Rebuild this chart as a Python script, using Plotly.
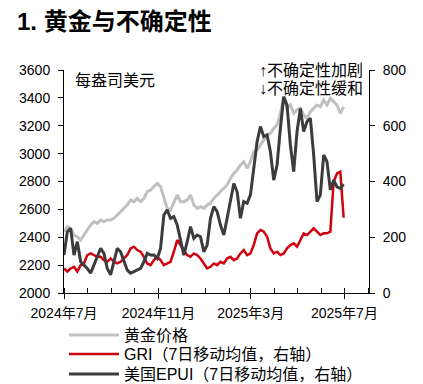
import pandas as pd
import plotly.graph_objects as go

# ---- data ----
dates = pd.date_range("2024-07-01", "2025-06-30", periods=85)

gold = [2440, 2476, 2464, 2416, 2404, 2380, 2416, 2452, 2488, 2512,
        2500, 2524, 2512, 2524, 2524, 2536, 2559, 2583, 2607, 2631,
        2667, 2655, 2679, 2655, 2679, 2727, 2739, 2763, 2787, 2763,
        2691, 2607, 2595, 2643, 2703, 2655, 2655, 2667, 2703, 2631,
        2607, 2619, 2607, 2631, 2643, 2679, 2703, 2727, 2751, 2775,
        2823, 2858, 2882, 2918, 2942, 2894, 2942, 3014, 3026, 3062,
        3098, 3134, 3146, 3181, 3205, 3289, 3409, 3325, 3349, 3289,
        3313, 3325, 3277, 3253, 3301, 3325, 3349, 3337, 3385, 3349,
        3397, 3373, 3349, 3289, 3337]

gri = [88, 77, 88, 94, 77, 100, 106, 136, 142, 136,
       130, 130, 118, 112, 124, 112, 106, 112, 124, 136,
       160, 166, 154, 148, 130, 106, 100, 118, 130, 118,
       100, 106, 112, 148, 190, 172, 154, 136, 130, 142,
       136, 124, 106, 88, 94, 106, 100, 112, 106, 124,
       130, 118, 124, 142, 154, 136, 142, 172, 214, 226,
       220, 202, 160, 142, 148, 136, 142, 160, 172, 178,
       166, 190, 214, 208, 220, 232, 220, 208, 214, 214,
       220, 399, 429, 435, 270]

epui = [136, 220, 232, 136, 184, 112, 100, 88, 71, 100,
        136, 160, 142, 88, 65, 112, 160, 148, 112, 82,
        71, 77, 82, 88, 112, 142, 136, 136, 124, 160,
        280, 298, 268, 274, 244, 184, 136, 184, 238, 196,
        208, 202, 148, 172, 268, 310, 292, 244, 208, 268,
        334, 393, 363, 268, 328, 322, 352, 459, 543, 597,
        561, 567, 507, 405, 459, 591, 704, 674, 531, 435,
        579, 662, 579, 615, 627, 495, 328, 352, 495, 471,
        370, 405, 381, 375, 390]

x_tickvals = ["2024-07-01", "2024-11-01", "2025-03-01", "2025-07-01"]
x_ticktext = ["2024年7月", "2024年11月", "2025年3月", "2025年7月"]
left_ticks = [2000, 2200, 2400, 2600, 2800, 3000, 3200, 3400, 3600]
right_ticks = [0, 200, 400, 600, 800]

names = ["黄金价格", "GRI（7日移动均值，右轴）", "美国EPUI（7日移动均值，右轴）"]
colors = ["#c0c0c0", "#d0000f", "#3c3c3c"]

FONT = "Liberation Sans, Noto Sans CJK SC, sans-serif"
X_RANGE = ["2024-07-01", "2025-08-02"]

fig = go.Figure()
fig.add_trace(go.Scatter(x=dates, y=gold, name=names[0], mode="lines",
                         line=dict(color=colors[0], width=3), yaxis="y",
                         legend="legend"))
fig.add_trace(go.Scatter(x=dates, y=gri, name=names[1], mode="lines",
                         line=dict(color=colors[1], width=2.5), yaxis="y2",
                         legend="legend2"))
fig.add_trace(go.Scatter(x=dates, y=epui, name=names[2], mode="lines",
                         line=dict(color=colors[2], width=3), yaxis="y2",
                         legend="legend3"))

axis_common = dict(showline=True, linecolor="black", linewidth=1, showgrid=False,
                   zeroline=False, ticks="outside", ticklen=5, tickcolor="black",
                   tickfont=dict(size=14, color="black", family=FONT))


def leg(ycenter_px):
    return dict(x=0, xref="paper", xanchor="left",
                y=1 - ycenter_px/384, yref="container", yanchor="middle",
                orientation="v", itemwidth=50,
                font=dict(size=16, color="black", family=FONT),
                bgcolor="rgba(0,0,0,0)")


fig.update_layout(
    width=423, height=384,
    margin=dict(l=64, r=54, t=70, b=91, autoexpand=False),
    paper_bgcolor="white", plot_bgcolor="white",
    font=dict(family=FONT, color="black"),
    title=dict(text="<b>1. 黄金与不确定性</b>", x=17/423, xanchor="left",
               y=1 - 22/384, yanchor="middle",
               font=dict(size=24, color="black", family="Liberation Sans, Noto Sans CJK SC")),
    xaxis=dict(range=X_RANGE, tickmode="array",
               tickvals=x_tickvals, ticktext=x_ticktext, ticklabelstandoff=2,
               minor=dict(tickmode="linear", tick0="2024-07-01", dtick="M1",
                          ticks="inside", ticklen=5, tickcolor="black"),
               **axis_common),
    xaxis2=dict(type="date", range=X_RANGE, overlaying="x", anchor="y", side="bottom",
                tickmode="array", tickvals=x_tickvals, ticks="inside", ticklen=5,
                tickcolor="black", showticklabels=False, showline=False,
                showgrid=False, zeroline=False),
    yaxis=dict(range=[2000, 3600], tickvals=left_ticks, ticklabelstandoff=5,
               **axis_common),
    yaxis2=dict(range=[0, 800], tickvals=right_ticks, overlaying="y", side="right",
                ticklabelstandoff=5, **axis_common),
    showlegend=True,
    legend=leg(335),
    legend2=leg(354),
    legend3=leg(374),
    annotations=[
        dict(text="每盎司美元", x=0.03, y=(293-80)/223, xref="paper", yref="paper",
             xanchor="left", yanchor="middle", showarrow=False,
             font=dict(size=16, color="black")),
        dict(text="↑不确定性加剧", x=(257-64)/305, y=(293-70)/223, xref="paper", yref="paper",
             xanchor="left", yanchor="middle", showarrow=False,
             font=dict(size=16, color="black")),
        dict(text="↓不确定性缓和", x=(257-64)/305, y=(293-88)/223, xref="paper", yref="paper",
             xanchor="left", yanchor="middle", showarrow=False,
             font=dict(size=16, color="black")),
    ],
)

fig.write_html("out.html", config={"displayModeBar": False},
               post_script="document.body.style.margin='0px';")
